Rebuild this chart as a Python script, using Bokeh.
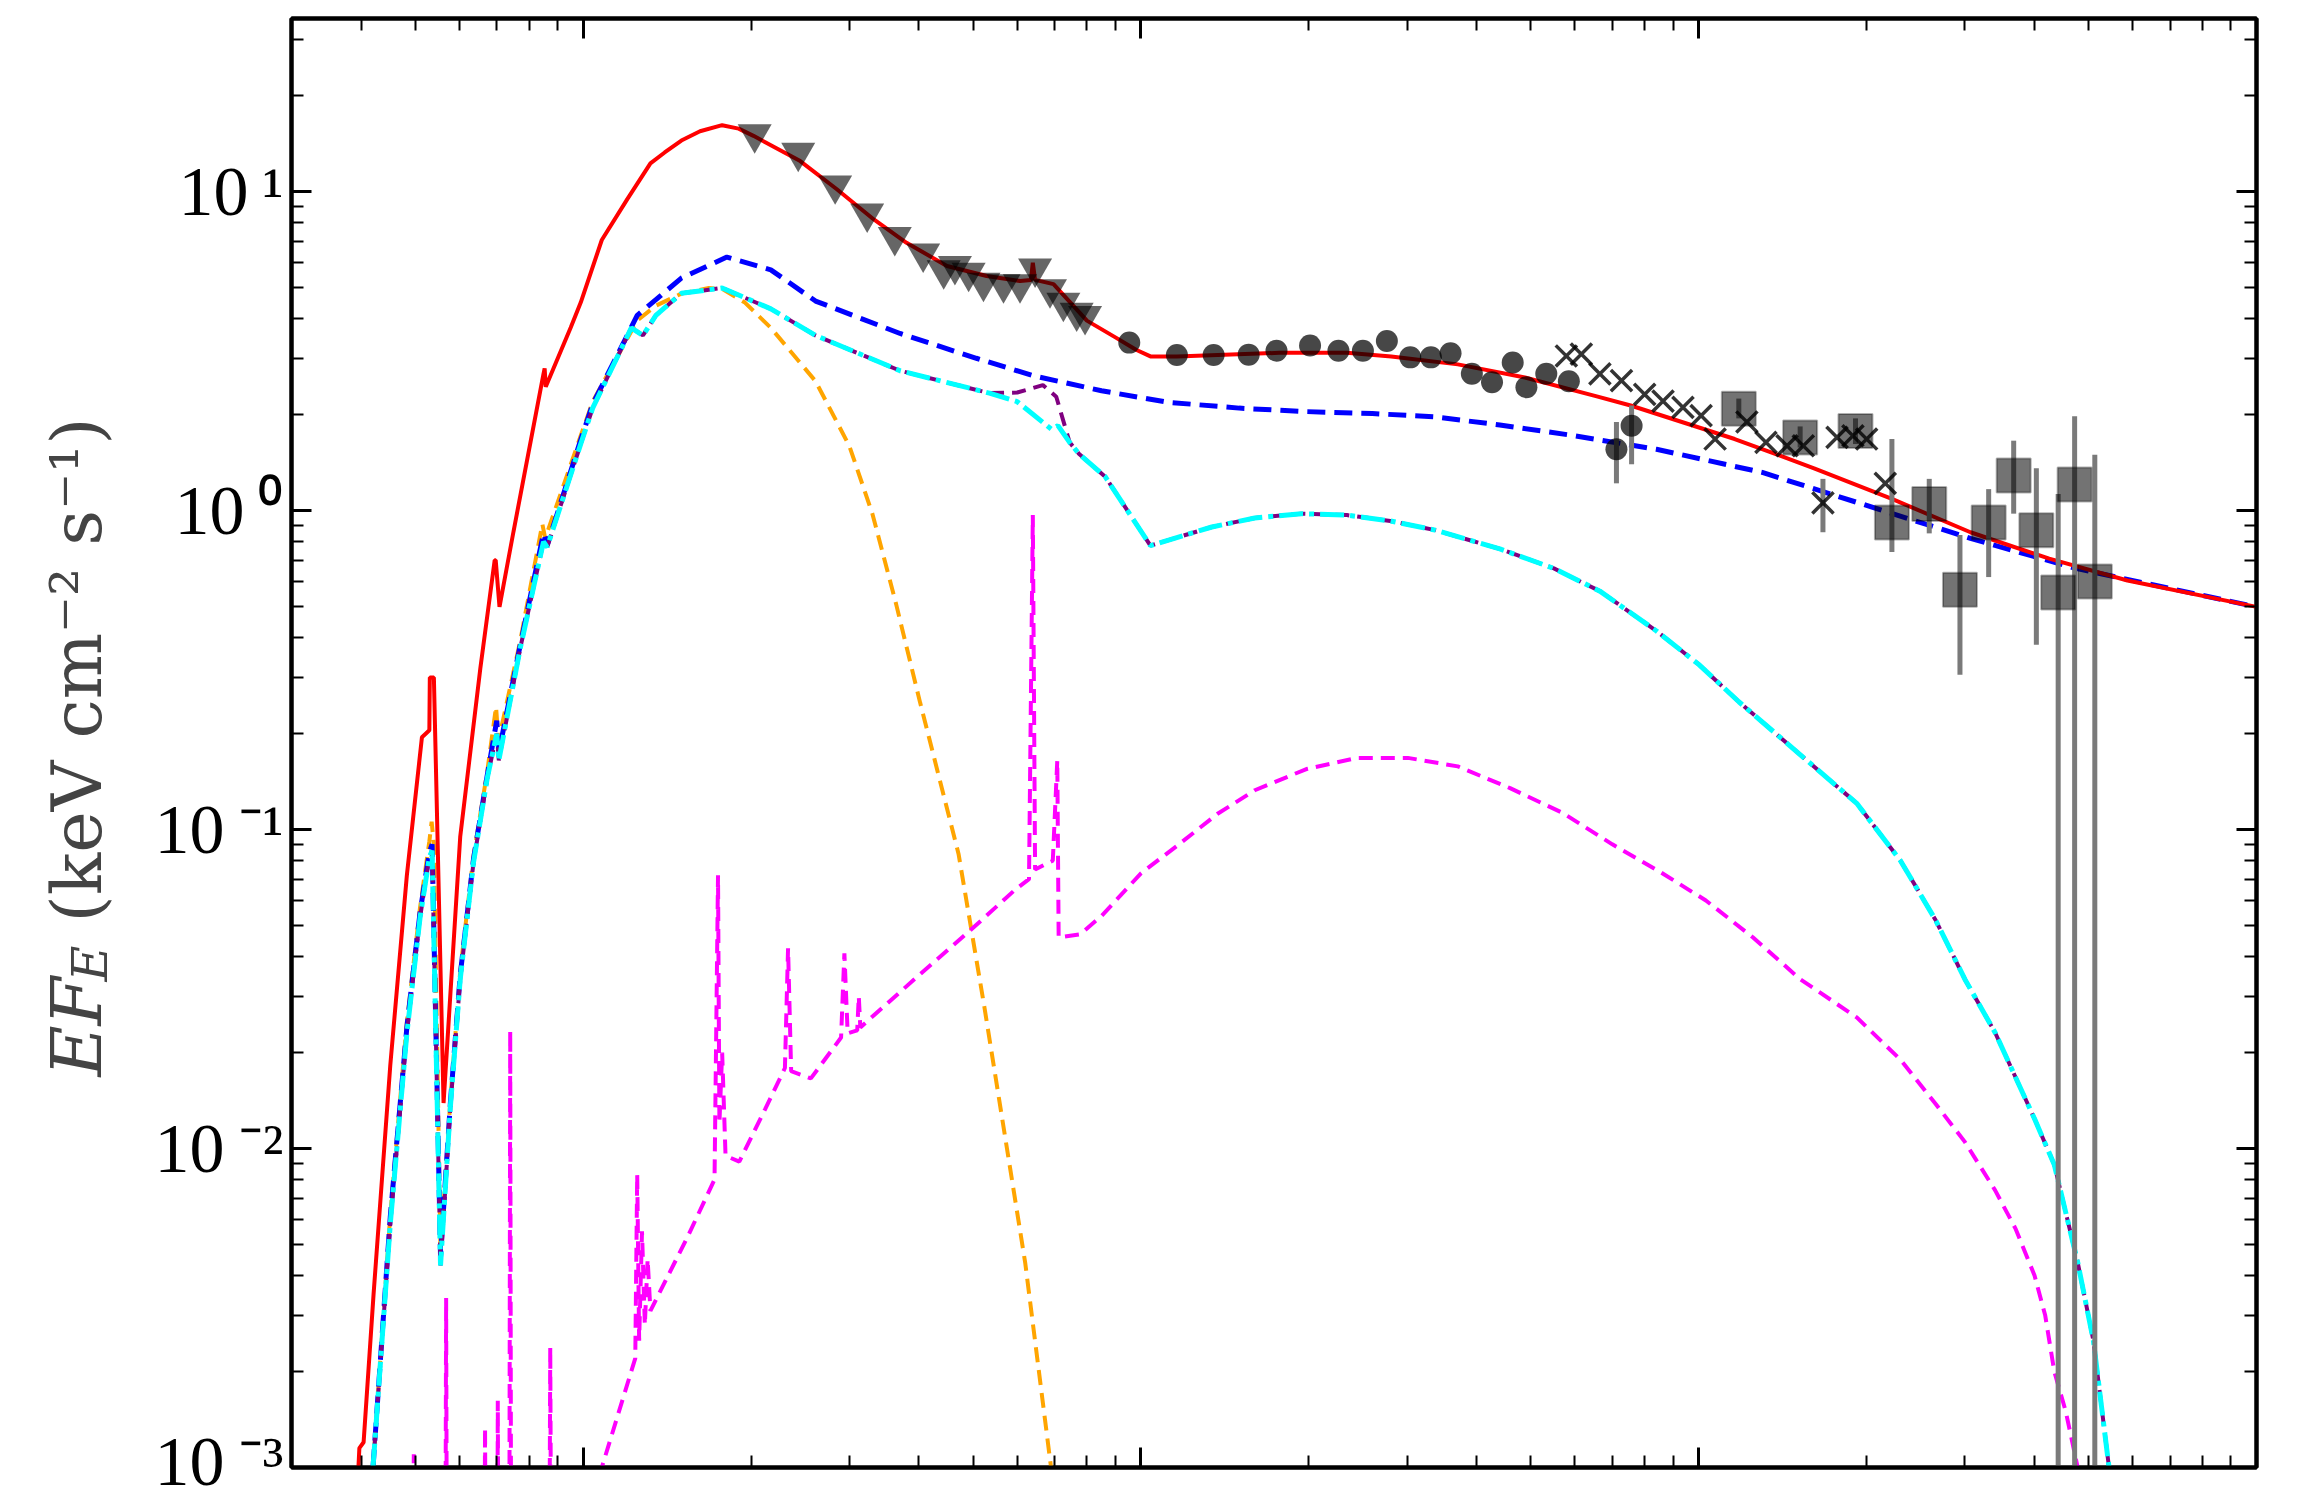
from math import pi

from bokeh.embed import file_html
from bokeh.layouts import row
from bokeh.models import (CustomJSTickFormatter, FixedTicker, Label, LogAxis,
                          Range1d)
from bokeh.plotting import figure
from bokeh.resources import INLINE

# ---------------------------------------------------------------- model curves
# total absorbed model
total_e = [0.393, 0.397, 0.404, 0.421, 0.451, 0.483, 0.514, 0.522, 0.530, 0.531,
           0.540, 0.562, 0.602, 0.654, 0.694, 0.697, 0.708, 0.75, 0.848, 0.853,
           0.857, 0.95, 0.99, 1.08, 1.20, 1.32, 1.40, 1.50, 1.62, 1.775, 1.90,
           2.02, 2.45, 2.85, 3.32, 3.80, 4.49, 5.29, 6.07, 6.35, 6.40, 6.46,
           6.97, 8.0, 9.0, 9.8, 10.4, 11.6, 17.7, 23.4, 28.1, 37.0, 48.8, 65.4,
           75.5, 116, 161, 222, 307, 425, 587, 1000]
total_f = [0.0008, 0.00115, 0.0012, 0.0035, 0.0182, 0.072, 0.195, 0.20, 0.205,
           0.30, 0.30, 0.0139, 0.095, 0.32, 0.70, 0.70, 0.50, 0.86, 2.66, 2.8,
           2.45, 3.76, 4.5, 7.07, 9.5, 12.3, 13.3, 14.5, 15.5, 16.2, 15.8, 15.0,
           12.5, 10.2, 8.2, 6.93, 5.86, 5.45, 5.26, 5.3, 6.0, 5.3, 5.14, 3.95,
           3.5, 3.2, 3.05, 3.05, 3.13, 3.13, 3.05, 2.88, 2.62, 2.29, 2.14, 1.68,
           1.36, 1.09, 0.857, 0.708, 0.605, 0.50]

# power-law / comptonised continuum
pl_e = [0.42, 0.451, 0.483, 0.510, 0.530, 0.536, 0.555, 0.578, 0.602, 0.636,
        0.673, 0.700, 0.706, 0.771, 0.849, 0.862, 0.99, 1.04, 1.25, 1.50, 1.81,
        2.17, 2.61, 3.7, 5.07, 6.43, 8.5, 11.2, 15.0, 19.4, 26.0, 33.7, 44,
        58.6, 84, 130, 200, 307, 474, 1000]
pl_f = [0.001, 0.0061, 0.024, 0.055, 0.085, 0.09, 0.0046, 0.0139, 0.035, 0.081,
        0.148, 0.22, 0.175, 0.378, 0.85, 0.78, 1.67, 2.16, 4.1, 5.37, 6.25, 5.7,
        4.55, 3.6, 3.01, 2.65, 2.38, 2.19, 2.10, 2.05, 2.02, 1.97, 1.86, 1.73,
        1.56, 1.32, 1.04, 0.82, 0.66, 0.50]

# disk blackbody
disk_e = [0.42, 0.451, 0.483, 0.510, 0.530, 0.535, 0.540, 0.555, 0.578, 0.602,
          0.636, 0.673, 0.698, 0.705, 0.771, 0.845, 0.855, 0.99, 1.04, 1.25,
          1.35, 1.50, 1.68, 1.78, 1.95, 2.17, 2.61, 3.0, 3.3, 3.64, 4.02, 4.71,
          5.24, 6.2, 6.9]
disk_f = [0.001, 0.0062, 0.025, 0.057, 0.092, 0.106, 0.09, 0.0047, 0.0142,
          0.036, 0.083, 0.152, 0.243, 0.19, 0.39, 0.91, 0.82, 1.72, 2.2, 3.95,
          4.4, 4.8, 5.0, 4.95, 4.5, 3.75, 2.55, 1.6, 0.98, 0.51, 0.25, 0.084,
          0.0278, 0.0044, 0.001]

# reflection continuum (no iron line)
refl_e = [0.42, 0.451, 0.483, 0.510, 0.530, 0.536, 0.555, 0.578, 0.602, 0.636,
          0.673, 0.700, 0.706, 0.771, 0.849, 0.862, 0.99, 1.04, 1.22, 1.28,
          1.35, 1.50, 1.775, 2.17, 2.61, 3.7, 5.35, 6.0, 6.92, 7.1, 7.45, 7.74,
          8.63, 10.4, 13.4, 16.0, 19.4, 23.4, 28.0, 33.7, 44, 55, 66.5, 84,
          100, 118, 147.5, 192, 230, 266, 300, 340, 400, 434, 478, 510, 544]
refl_f = [0.001, 0.0058, 0.023, 0.053, 0.082, 0.086, 0.0043, 0.0135, 0.034,
          0.079, 0.145, 0.2, 0.165, 0.37, 0.80, 0.77, 1.62, 2.1, 3.75, 3.55,
          4.1, 4.81, 5.0, 4.3, 3.55, 2.75, 2.34, 2.2, 1.8, 1.85, 1.64, 1.51,
          1.28, 0.778, 0.89, 0.95, 0.98, 0.97, 0.93, 0.87, 0.76, 0.66, 0.56,
          0.42, 0.33, 0.252, 0.18, 0.121, 0.080, 0.052, 0.034, 0.0231, 0.0124,
          0.0089, 0.0044, 0.0025, 0.001]

# reflection with broad iron line
reflfe_e = [0.42, 0.451, 0.483, 0.510, 0.530, 0.536, 0.555, 0.578, 0.602, 0.636,
            0.673, 0.700, 0.706, 0.771, 0.849, 0.862, 0.99, 1.04, 1.22, 1.28,
            1.35, 1.50, 1.775, 2.17, 2.61, 3.7, 5.35, 6.0, 6.67, 7.05, 7.45,
            7.74, 8.63, 10.4, 13.4, 16.0, 19.4, 23.4, 28.0, 33.7, 44, 55, 66.5,
            84, 100, 118, 147.5, 192, 230, 266, 300, 340, 400, 434, 478, 510,
            544]
reflfe_f = [0.001, 0.0058, 0.023, 0.053, 0.082, 0.086, 0.0043, 0.0135, 0.034,
            0.079, 0.145, 0.2, 0.165, 0.37, 0.80, 0.77, 1.62, 2.1, 3.75, 3.55,
            4.1, 4.81, 5.0, 4.3, 3.55, 2.75, 2.34, 2.35, 2.48, 2.28, 1.64, 1.51,
            1.28, 0.778, 0.89, 0.95, 0.98, 0.97, 0.93, 0.87, 0.76, 0.66, 0.56,
            0.42, 0.33, 0.252, 0.18, 0.121, 0.080, 0.052, 0.034, 0.0231,
            0.0124, 0.0089, 0.0044, 0.0025, 0.001]

# ionised reflector with emission lines
xline_e = [0.48, 0.494, 0.497, 0.500, 0.56, 0.565, 0.568, 0.571, 0.66, 0.664,
           0.667, 0.670, 0.698, 0.701, 0.703, 0.706, 0.735, 0.737, 0.740, 0.743,
           0.86, 0.870, 0.873, 0.876, 1.08, 1.24, 1.25, 1.26, 1.275, 1.29,
           1.305, 1.32, 1.54, 1.72, 1.745, 1.755, 1.775, 1.80, 1.905, 2.12,
           2.30, 2.33, 2.36, 2.56, 2.90, 2.94, 2.98, 3.10, 3.12, 3.14, 3.98,
           4.92, 5.94, 6.30, 6.40, 6.46, 6.74, 6.95, 7.08, 7.12, 7.78, 8.51,
           10.0, 11.7, 13.7, 16.0, 19.8, 24.4, 30.1, 37.0, 45.9, 57.0, 70, 85,
           103, 125, 152, 192, 230, 266, 300, 340, 370, 400, 418, 434, 455,
           478]
xline_f = [0.0001, 0.0001, 0.0011, 0.0001, 0.0001, 0.0001, 0.0034, 0.0001,
           0.0002, 0.0002, 0.00133, 0.0002, 0.0002, 0.0002, 0.00162, 0.0002,
           0.0003, 0.0003, 0.0234, 0.0003, 0.0005, 0.0005, 0.00238, 0.0005,
           0.001, 0.0022, 0.0083, 0.0025, 0.0055, 0.0028, 0.0045, 0.0031,
           0.0053, 0.0080, 0.072, 0.012, 0.02, 0.0095, 0.0091, 0.0133, 0.0179,
           0.0425, 0.0175, 0.0166, 0.0223, 0.041, 0.023, 0.0235, 0.03, 0.024,
           0.0347, 0.048, 0.0647, 0.07, 0.97, 0.075, 0.078, 0.08, 0.165, 0.046,
           0.047, 0.0538, 0.073, 0.090, 0.112, 0.133, 0.155, 0.168, 0.168,
           0.158, 0.135, 0.113, 0.090, 0.074, 0.06, 0.046, 0.034, 0.0258,
           0.019, 0.0138, 0.0105, 0.0074, 0.0056, 0.0040, 0.0030, 0.0020,
           0.0015, 0.001]

# ------------------------------------------------------------------ data sets
soft_e = [2.03, 2.43, 2.83, 3.23, 3.62, 4.07, 4.43, 4.64, 4.91, 5.22, 5.67,
          6.07, 6.46, 6.87, 7.26, 7.67, 7.94]
soft_f = [15.2, 13.3, 10.5, 8.57, 7.23, 6.42, 5.69, 5.87, 5.59, 5.20, 5.14,
          5.14, 5.76, 4.96, 4.50, 4.19, 4.09]

mid_e = [9.53, 11.6, 13.5, 15.6, 17.5, 20.1, 22.6, 25.0, 27.6, 30.4, 33.1, 35.9,
         39.2, 42.6, 46.4, 49.1, 53.3, 58.5, 71.2, 75.8]
mid_f = [3.37, 3.08, 3.08, 3.09, 3.18, 3.30, 3.18, 3.18, 3.41, 3.03, 3.03, 3.12,
         2.69, 2.53, 2.92, 2.44, 2.69, 2.55, 1.56, 1.85]

hard_e = [57.9, 61.6, 66.5, 72.7, 80.0, 86.3, 93.7, 101, 107, 122, 132, 144,
          154, 167, 177, 189, 200, 216]
hard_f = [3.06, 3.10, 2.69, 2.56, 2.32, 2.21, 2.11, 1.99, 1.68, 1.90, 1.64,
          1.60, 1.60, 1.06, 1.70, 1.72, 1.68, 1.22]

gamma_e = [118, 152, 191, 222, 259, 294, 331, 367, 403, 441, 472, 513]
gamma_f = [2.09, 1.70, 1.78, 0.92, 1.05, 0.566, 0.92, 1.29, 0.87, 0.555, 1.21,
           0.60]
gamma_lo = [1.95, 1.58, 1.62, 0.743, 0.85, 0.306, 0.62, 0.98, 0.38, 0.0001,
            0.0001, 0.0001]
gamma_hi = [2.25, 1.84, 1.95, 1.68, 1.26, 0.84, 1.17, 1.66, 1.36, 1.13, 1.98,
            1.50]

# larger error bars on the circle / cross points
bar_e = [71.2, 75.8, 167]
bar_lo = [1.22, 1.40, 0.857]
bar_hi = [1.90, 2.14, 1.26]

# axis ticks
y_major = [1e-3, 1e-2, 1e-1, 1, 10]
y_minor = [k * 10.0 ** d for d in range(-3, 2) for k in range(2, 10)
           if k * 10.0 ** d < 35]
x_major = [1, 10, 100, 1000]
x_minor = [k * 10.0 ** d for d in range(-1, 3) for k in range(2, 10)
           if 0.3 <= k * 10.0 ** d < 1000]

# ------------------------------------------------------- y-axis title strip
TITLE_W = 140
lab = figure(width=TITLE_W, height=1499, x_range=Range1d(0, 1),
             y_range=Range1d(0, 1), output_backend="svg",
             toolbar_location=None, x_axis_location=None,
             y_axis_location=None, min_border=0)
lab.outline_line_color = None
lab.background_fill_color = "white"
lab.border_fill_color = "white"
lab.grid.visible = False

title_font = "DejaVu Serif"
base_x, base_y = 76, 391
lab.add_layout(Label(x=base_x, y=base_y, x_units="screen", y_units="screen",
                     text="EF", angle=pi / 2, text_font=title_font,
                     text_font_style="italic", text_font_size="70px",
                     text_align="left", text_baseline="alphabetic"))
lab.add_layout(Label(x=base_x + 14, y=base_y + 95, x_units="screen",
                     y_units="screen", text="E", angle=pi / 2,
                     text_font=title_font, text_font_style="italic",
                     text_font_size="49px", text_align="left",
                     text_baseline="alphabetic"))
lab.add_layout(Label(x=base_x, y=base_y + 154, x_units="screen",
                     y_units="screen", text="(keV cm\u207b\u00b2 s\u207b\u00b9)",
                     angle=pi / 2, text_font=title_font, text_font_size="70px",
                     text_align="left", text_baseline="alphabetic"))

# ---------------------------------------------------------------- the figure
p = figure(width=2317 - TITLE_W, height=1499, x_axis_type="log",
           y_axis_type="log", x_range=Range1d(0.3, 1000),
           y_range=Range1d(1e-3, 35), output_backend="svg",
           toolbar_location=None, min_border_left=291 - TITLE_W,
           min_border_right=61, min_border_top=18, min_border_bottom=32)
p.background_fill_color = "white"
p.border_fill_color = "white"
p.grid.visible = False
p.outline_line_color = "black"
p.outline_line_width = 4

blank = CustomJSTickFormatter(code="return ''")
power = CustomJSTickFormatter(code="""
const sup = {'-': '\u207b', '0': '\u2070', '1': '\u00b9', '2': '\u00b2',
             '3': '\u00b3', '4': '\u2074', '5': '\u2075'};
const e = Math.round(Math.log10(tick));
return '10\u2009' + String(e).split('').map(c => sup[c]).join('');
""")

p.add_layout(LogAxis(), "right")
p.add_layout(LogAxis(), "above")

for ax in p.axis:
    ax.axis_line_width = 4
    ax.axis_line_color = "black"
    ax.major_tick_in = 20
    ax.major_tick_out = 0
    ax.minor_tick_in = 12
    ax.minor_tick_out = 0
    ax.major_tick_line_width = 3
    ax.minor_tick_line_width = 2
    ax.major_tick_line_color = "black"
    ax.minor_tick_line_color = "black"
    ax.formatter = blank
    ax.major_label_standoff = 0

for ax in p.xaxis:
    ax.ticker = FixedTicker(ticks=x_major, minor_ticks=x_minor)
for ax in p.yaxis:
    ax.ticker = FixedTicker(ticks=y_major, minor_ticks=y_minor)

left = p.left[0]
left.formatter = power
left.major_label_standoff = 8
left.major_label_text_font = "Liberation Serif"
left.major_label_text_font_size = "70px"
left.major_label_text_color = "black"

# model components
p.line(disk_e, disk_f, line_color="orange", line_width=4, line_dash="15 8")
p.line(pl_e, pl_f, line_color="blue", line_width=5, line_dash="18 9")
p.line(reflfe_e, reflfe_f, line_color="purple", line_width=4, line_dash="14 8")
p.line(refl_e, refl_f, line_color="cyan", line_width=5,
       line_dash="24 6 5 6")
p.line(xline_e, xline_f, line_color="magenta", line_width=4, line_dash="14 8")
p.line(total_e, total_f, line_color="red", line_width=4)

# error bars
p.segment(x0=gamma_e, y0=gamma_lo, x1=gamma_e, y1=gamma_hi,
          line_color="#7a7a7a", line_width=5)
p.segment(x0=bar_e, y0=bar_lo, x1=bar_e, y1=bar_hi,
          line_color="#7a7a7a", line_width=5)

# data points
p.scatter(soft_e, soft_f, marker="inverted_triangle", size=34,
          fill_color="black", fill_alpha=0.6, line_color=None)
p.scatter(mid_e, mid_f, marker="circle", size=22, fill_color="black",
          fill_alpha=0.72, line_color=None)
p.scatter(hard_e, hard_f, marker="x", size=30, line_color="black",
          line_width=3.5, line_alpha=0.8)
p.scatter(gamma_e, gamma_f, marker="square", size=34, fill_color="black",
          fill_alpha=0.55, line_color="black", line_alpha=0.3, line_width=2)

layout = row(lab, p, spacing=0)
open("out.html", "w").write(file_html(layout, INLINE))
